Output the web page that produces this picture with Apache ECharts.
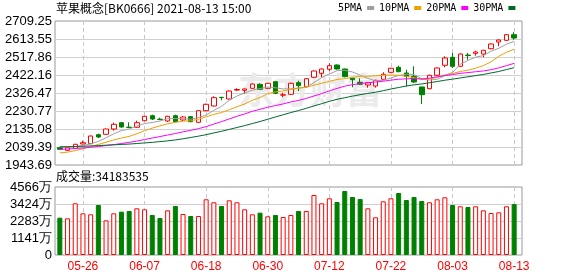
<!DOCTYPE html>
<html><head><meta charset="utf-8">
<script src="https://cdn.jsdelivr.net/npm/echarts@6.0.0/dist/echarts.min.js"></script>
<style>html,body{margin:0;padding:0;background:#fff}#c{width:578px;height:276px}</style>
</head><body><div id="c"></div>
<script>
const titleText = '苹果概念[BK0666] 2021-08-13 15:00';
const volTitle = '成交量';
const dates = ['05-21','05-24','05-25','05-26','05-27','05-28','05-31','06-01','06-02','06-03','06-04','06-07','06-08','06-09','06-10','06-11','06-15','06-16','06-17','06-18','06-21','06-22','06-23','06-24','06-25','06-28','06-29','06-30','07-01','07-02','07-05','07-06','07-07','07-08','07-09','07-12','07-13','07-14','07-15','07-16','07-19','07-20','07-21','07-22','07-23','07-26','07-27','07-28','07-29','07-30','08-02','08-03','08-04','08-05','08-06','08-09','08-10','08-11','08-12','08-13'];
const opens  = [2035.7,2021.9,2032.5,2055.4,2057.0,2104.8,2107.0,2135.1,2168.6,2144.5,2144.2,2179.2,2205.8,2187.0,2177.6,2205.8,2183.0,2200.5,2170.7,2232.4,2257.4,2303.6,2294.6,2342.0,2340.8,2351.5,2372.7,2351.5,2386.6,2315.0,2319.6,2381.3,2360.0,2410.0,2431.2,2452.5,2475.3,2454.1,2404.6,2383.4,2369.0,2363.7,2399.3,2436.5,2463.1,2432.8,2415.3,2358.4,2349.4,2420.6,2473.8,2516.3,2468.4,2528.0,2537.5,2533.8,2562.0,2597.6,2606.6,2636.4];
const closes = [2027.2,2037.8,2053.8,2062.3,2097.9,2092.6,2135.1,2160.1,2145.7,2143.5,2168.6,2202.6,2188.3,2186.0,2202.6,2173.9,2198.9,2173.9,2232.4,2266.4,2301.5,2302.0,2337.1,2345.0,2347.8,2374.3,2346.2,2378.1,2324.9,2317.0,2378.1,2365.3,2402.5,2443.5,2454.1,2471.6,2454.1,2413.2,2397.2,2372.8,2381.3,2394.0,2425.9,2457.8,2439.7,2414.2,2385.0,2317.5,2420.6,2459.4,2512.6,2468.4,2533.8,2526.0,2544.5,2553.5,2587.0,2608.2,2636.4,2618.9];
const lows   = [2025,2018,2030,2053,2055,2087.3,2105,2126,2142,2142,2142,2177,2183,2185,2172.3,2171,2177,2171,2168,2230,2255,2287.7,2292,2337.1,2322.8,2349,2344,2349,2320,2303.6,2316,2337.1,2357,2407,2410,2443.5,2451,2410,2356.8,2370,2354.7,2355,2397,2434,2437,2361,2380,2268,2346,2417,2463.1,2459.4,2466,2503.5,2524.8,2516.3,2559,2574.8,2604,2609.8];
const highs  = [2038,2040,2056,2072.9,2100,2110,2137,2168.6,2172,2170.7,2179.2,2205,2211.1,2195.2,2205,2211.1,2204,2204,2235,2270,2309,2305,2340,2351.5,2350,2378,2378,2381,2390,2328.1,2381,2391.9,2405,2446,2457,2484.4,2478,2456,2407,2404.6,2384,2397,2436.5,2460,2471.6,2450.4,2468.4,2360,2424,2462,2521.6,2539.1,2537,2539.1,2551.4,2556,2590,2611,2639,2649.2];
const ma5  = [2041,2040,2042,2047,2055.8,2068.9,2088.3,2109.6,2126.3,2135.4,2150.6,2164.1,2169.7,2177.8,2189.6,2190.7,2189.9,2187.1,2196.3,2209.1,2234.6,2255.2,2287.9,2310.4,2326.7,2341.2,2350.1,2358.3,2354.3,2348.1,2348.9,2352.7,2357.6,2381.3,2408.7,2427.4,2445.2,2447.3,2438.0,2421.8,2403.7,2391.7,2394.2,2406.4,2419.7,2426.3,2424.5,2402.8,2395.4,2399.3,2419.0,2435.7,2479.0,2500.0,2517.1,2525.2,2549.0,2563.8,2585.9,2600.8];
const ma10 = [2008,2012,2020,2030,2042,2053,2065,2077,2087,2095.6,2109.7,2126.2,2139.7,2152.0,2162.5,2170.6,2177.0,2178.4,2187.1,2199.4,2212.7,2222.6,2237.5,2253.4,2267.9,2287.9,2302.7,2323.1,2332.3,2337.4,2345.1,2351.4,2357.9,2367.8,2378.4,2388.1,2398.9,2402.4,2409.7,2415.2,2415.6,2418.4,2420.8,2422.2,2420.8,2415.0,2408.1,2398.5,2400.9,2409.5,2422.7,2430.1,2440.9,2447.7,2458.2,2472.1,2492.3,2521.4,2543.0,2558.9];
const ma20 = [2027,2029,2031,2034,2038,2042,2047,2052,2058,2064,2071,2079,2087,2095,2103,2111,2120,2128,2137,2147.5,2161.2,2174.4,2188.6,2202.7,2215.2,2229.3,2239.8,2250.7,2259.7,2268.4,2278.9,2287.0,2297.7,2310.6,2323.1,2338.0,2350.8,2362.8,2371.0,2376.3,2380.3,2384.9,2389.3,2395.0,2399.6,2401.6,2403.5,2400.5,2405.3,2412.4,2419.1,2424.3,2430.8,2435.0,2439.5,2443.6,2450.2,2460.0,2471.9,2484.2];
const ma30 = [2040,2041,2042,2043,2045,2047,2049,2051,2053,2055,2058,2061,2064,2068,2072,2077,2083,2090,2097,2105,2114,2123,2133,2143,2153,2164,2175,2187,2199,2210.8,2222.5,2233.4,2245.0,2257.7,2269.6,2282.2,2292.9,2301.3,2309.7,2317.3,2324.4,2330.8,2338.7,2347.8,2355.7,2363.7,2369.9,2374.7,2381.0,2387.4,2394.4,2400.0,2406.5,2412.6,2419.1,2425.1,2433.1,2440.8,2451.2,2461.2];
const volumes = [25050000,24620000,34710000,27980000,27310000,33570000,23280000,27980000,29100000,29550000,31340000,30670000,26860000,24850000,29990000,32900000,27530000,26190000,26190000,37400000,35390000,32900000,36730000,35390000,30670000,27310000,28430000,25970000,26860000,25520000,26860000,29550000,29550000,40290000,34710000,38070000,35590000,42980000,38950000,37600000,31340000,25300000,36060000,38070000,41630000,36930000,38950000,36260000,35390000,37400000,38740000,33570000,32700000,32230000,32700000,30000000,28200000,28650000,32700000,34183535];
const priceTicks = ['1943.69','2039.39','2135.08','2230.77','2326.47','2422.16','2517.86','2613.55','2709.25'];
const volTicks = ['0','1141万','2283万','3424万','4566万'];
const maNames = ['5PMA','10PMA','20PMA','30PMA'];

const RED = '#ff0000', GREEN = '#008000';
const maColors = ['#a0a0a0','#f0a000','#ff00ff','#006a2e'];
const labelEvery = (i) => (dates.length - 1 - i) % 8 === 0;
const sansFont = '"Liberation Sans", Arial, sans-serif';
const cjkFont = '"Noto Sans CJK SC", sans-serif';

const chart = echarts.init(document.getElementById('c'), null, {renderer: 'canvas'});
const dashed = {show: true, interval: labelEvery, alignWithLabel: true, lineStyle: {color: '#c8c8c8', type: [4, 3], width: 1}};
const helperY = (gridIndex, data) => ({
  type: 'category', gridIndex, data, boundaryGap: false,
  axisLine: {show: false}, axisTick: {show: false},
  axisLabel: {interval: 0, color: '#000', fontSize: 13, fontFamily: sansFont, margin: 3},
  splitLine: {show: true, interval: 0, showMinLine: false, showMaxLine: false, lineStyle: {color: '#d0d0d0', width: 1}}
});

chart.setOption({
  animation: false,
  backgroundColor: '#fff',
  title: [
    {text: titleText, left: 56, top: 2, padding: 0, textStyle: {fontSize: 12, fontWeight: 'normal', color: '#000', fontFamily: cjkFont}},
    {text: volTitle + ':' + volumes[volumes.length - 1], left: 56, top: 170, padding: 0, textStyle: {fontSize: 12, fontWeight: 'normal', color: '#000', fontFamily: cjkFont}}
  ],
  legend: {
    data: maNames, left: 338, top: 3, padding: 0, align: 'right', icon: 'rect',
    itemWidth: 7, itemHeight: 4, itemGap: 5,
    textStyle: {fontSize: 10, color: '#000', fontFamily: '"DejaVu Sans Mono", monospace'}
  },
  graphic: [{
    type: 'text', left: 238, top: 72, z: 1, silent: true,
    style: {text: '东方财富', font: 'bold 36px "Noto Sans CJK SC"', fill: '#ebebeb'}
  }],
  grid: [
    {left: 56, top: 21, width: 462, height: 144},
    {left: 56, top: 187, width: 462, height: 68},
    {left: 55, top: 21, width: 467, height: 144, show: true, borderColor: '#999', borderWidth: 1, backgroundColor: 'transparent'},
    {left: 55, top: 187, width: 467, height: 68, show: true, borderColor: '#999', borderWidth: 1, backgroundColor: 'transparent'}
  ],
  xAxis: [
    {type: 'category', gridIndex: 0, data: dates, boundaryGap: true, axisLine: {show: false}, axisTick: {show: false}, axisLabel: {show: false}, splitLine: dashed},
    {type: 'category', gridIndex: 1, data: dates, boundaryGap: true, axisLine: {show: false}, axisTick: {show: false},
     axisLabel: {show: true, interval: labelEvery, color: RED, fontSize: 12, fontFamily: sansFont, margin: 6}, splitLine: dashed},
    {type: 'value', gridIndex: 2, min: 0, max: 1, show: false},
    {type: 'value', gridIndex: 3, min: 0, max: 1, show: false}
  ],
  yAxis: [
    {type: 'value', gridIndex: 0, min: 1943.69, max: 2709.25, show: false, splitLine: {show: false}},
    {type: 'value', gridIndex: 1, min: 0, max: 45660000, show: false, splitLine: {show: false}},
    helperY(2, priceTicks),
    helperY(3, volTicks)
  ],
  series: [
    {
      type: 'candlestick', name: 'K', xAxisIndex: 0, yAxisIndex: 0, barWidth: 5, z: 3,
      data: dates.map((d, i) => [opens[i], closes[i], lows[i], highs[i]]),
      itemStyle: {color: '#ffffff', color0: GREEN, borderColor: RED, borderColor0: GREEN, borderWidth: 1}
    },
    ...[ma5, ma10, ma20, ma30].map((arr, k) => ({
      type: 'line', name: maNames[k], xAxisIndex: 0, yAxisIndex: 0, data: arr,
      showSymbol: false, symbol: 'none', z: 4,
      lineStyle: {color: maColors[k], width: 1}, itemStyle: {color: maColors[k]}
    })),
    {
      type: 'bar', name: 'VOL', xAxisIndex: 1, yAxisIndex: 1, barWidth: 5, z: 3,
      data: volumes.map((v, i) => {
        const up = closes[i] >= opens[i];
        return {value: v, itemStyle: {color: up ? '#ffffff' : GREEN, borderColor: up ? RED : GREEN, borderWidth: 1}};
      })
    }
  ]
});
</script>
</body></html>
